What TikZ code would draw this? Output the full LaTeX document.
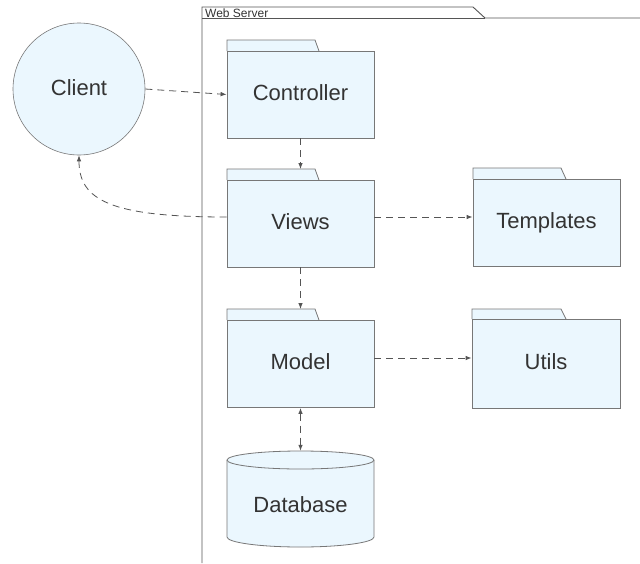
\documentclass[tikz,border=0pt]{standalone}
\usepackage{fontspec}
\setmainfont{Liberation Sans}
\usetikzlibrary{arrows.meta}
\definecolor{pkgfill}{HTML}{EBF7FE}
\definecolor{pkgline}{HTML}{777777}
\definecolor{txt}{HTML}{333333}
\definecolor{conn}{HTML}{555555}
\newcommand{\liftup}[1]{\raisebox{4pt}{#1}}
\tikzset{
  pkgbody/.style={draw=pkgline, fill=pkgfill, line width=0.8pt, minimum width=147pt, minimum height=87pt, inner sep=0pt, text=txt, font=\fontsize{22}{26}\selectfont},
  pkgtab/.style={draw=pkgline, fill=pkgfill, line width=0.8pt},
  depline/.style={draw=conn, line width=0.8pt, dash pattern=on 7pt off 5pt, -{Latex[length=6pt,width=4.5pt]}},
  bothline/.style={draw=conn, line width=0.8pt, dash pattern=on 7pt off 5pt, {Latex[length=6pt,width=4.5pt]}-{Latex[length=6pt,width=4.5pt]}},
  framestroke/.style={draw=conn, line width=0.9pt},
}
\begin{document}
\begin{tikzpicture}[x=1pt,y=-1pt]
\useasboundingbox (0,0) rectangle (640,563);
\fill[white] (0,0) rectangle (640,563);
% Web server frame
\draw[framestroke] (202,563) -- (202,7) -- (473,7) -- (485,18) -- (640,18);
\draw[framestroke] (202,18) -- (485,18);
\node[anchor=base west, inner sep=0pt, text=txt, font=\fontsize{12}{14}\selectfont] (ws) at (205,17.5) {Web Server};
% tabs
\draw[pkgtab] (227,51) -- (227,40) -- (315,40) -- (319,51);
\draw[pkgtab] (227,180) -- (227,169) -- (315,169) -- (319,180);
\draw[pkgtab] (227,320) -- (227,309) -- (315,309) -- (319,320);
\draw[pkgtab] (473,179) -- (473,168) -- (561,168) -- (566,179);
\draw[pkgtab] (472,319) -- (472,309) -- (561,309) -- (566,319);
% bodies
\node[pkgbody] (ctrl) at (300.5,94.5) {\liftup{Controller}};
\node[pkgbody] (views) at (300.5,223.5) {\liftup{Views}};
\node[pkgbody] (model) at (300.5,364) {\liftup{Model}};
\node[pkgbody] (tmpl) at (546.5,223) {\liftup{Templates}};
\node[pkgbody, minimum width=148pt, minimum height=89pt] (utils) at (546,363.5) {\liftup{Utils}};
% client
\node[circle, draw=pkgline, fill=pkgfill, line width=0.6pt, minimum size=132pt, inner sep=0pt, text=txt, font=\fontsize{22}{26}\selectfont] (client) at (79,89) {\raisebox{2pt}{Client}};
% database
\node[minimum width=147pt, minimum height=96pt, inner sep=0pt] (db) at (300.5,499) {};
\draw[pkgtab] (227,460) -- (227,537) arc[start angle=180, end angle=0, x radius=73.5, y radius=10] -- (374,460) arc[start angle=0, end angle=-180, x radius=73.5, y radius=9] -- cycle;
\draw[pkgtab, fill=none] (227,460) arc[start angle=180, end angle=0, x radius=73.5, y radius=9];
\node[text=txt, font=\fontsize{22}{26}\selectfont] (dbtext) at (300.5,505) {Database};
% connectors
\draw[depline] (client.east) -- (ctrl.west);
\draw[depline] (ctrl.south) -- (300.5,169);
\draw[depline] (views.south) -- (300.5,309);
\draw[depline] (views.east |- 0,217) -- (tmpl.west |- 0,217);
\draw[depline] (model.east |- 0,358) -- (utils.west |- 0,358);
\draw[depline] (views.west |- 0,217) .. controls (110,217) and (79,200) .. (client.south);
\draw[bothline] (model.south) -- (db.north);
\end{tikzpicture}
\end{document}
